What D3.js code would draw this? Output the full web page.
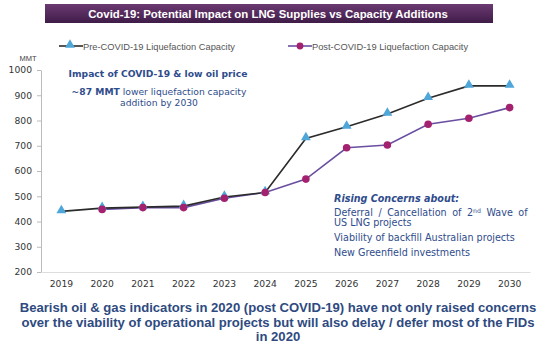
<!DOCTYPE html>
<html>
<head>
<meta charset="utf-8">
<script src="https://cdn.jsdelivr.net/npm/d3@7"></script>
<style>
  body { margin: 0; background: #fff; }
  svg { font-family: Arial, "Liberation Sans", sans-serif; }
  .wide { font-family: "DejaVu Sans", Verdana, sans-serif; }
</style>
</head>
<body>
<svg id="chart" width="550" height="350"></svg>
<script>
const years = ['2019', '2020', '2021', '2022', '2023', '2024', '2025', '2026', '2027', '2028', '2029', '2030'];
const preCovid = [440, 453, 457, 461, 497, 515, 729, 775, 826, 888, 937, 937];
const postCovid = [null, 448, 455, 455, 492, 515, 568, 692, 703, 785, 809, 851];
const yTicks = [200, 300, 400, 500, 600, 700, 800, 900, 1000];

const svg = d3.select('#chart');
const blue = '#2f4c8c';

/* title bar */
const grad = svg.append('defs').append('linearGradient')
    .attr('id', 'tbar').attr('x1', 0).attr('y1', 0).attr('x2', 0).attr('y2', 1);
grad.append('stop').attr('offset', '0%').attr('stop-color', '#6b3a72');
grad.append('stop').attr('offset', '100%').attr('stop-color', '#3f1c48');
svg.append('rect')
    .attr('x', 45).attr('y', 4).attr('width', 448).attr('height', 19)
    .attr('fill', 'url(#tbar)');
svg.append('text')
    .attr('x', 268).attr('y', 17.5)
    .attr('text-anchor', 'middle')
    .attr('fill', '#fff')
    .attr('font-size', 11.4).attr('font-weight', 'bold')
    .text('Covid-19: Potential Impact on LNG Supplies vs Capacity Additions');

const xScale = d3.scaleBand()
    .domain(years)
    .range([41, 530]);
const xc = (d) => xScale(d) + xScale.bandwidth() / 2;

const yScale = d3.scaleLinear()
    .domain([200, 1000])
    .range([272, 70]);

/* y axis */
const yAxis = svg.append('g')
    .attr('transform', 'translate(41,0)')
    .call(d3.axisLeft(yScale).tickValues(yTicks).tickFormat(d3.format('d')).tickSize(4).tickSizeOuter(0));
yAxis.select('.domain').attr('stroke', '#bbb');
yAxis.selectAll('.tick line').attr('stroke', '#bbb');
yAxis.selectAll('.tick text')
    .attr('class', 'wide')
    .attr('font-size', 9.2).attr('fill', '#333')
    .attr('font-family', null)
    .attr('dx', -2);

/* x axis */
const xAxis = svg.append('g')
    .attr('transform', 'translate(0,272)')
    .call(d3.axisBottom(xScale).tickSize(0).tickSizeOuter(0));
xAxis.select('.domain').attr('stroke', '#ddd');
xAxis.selectAll('.tick text')
    .attr('class', 'wide')
    .attr('font-size', 9.2).attr('fill', '#333')
    .attr('font-family', null)
    .attr('dy', '1.25em');

svg.append('text')
    .attr('x', 28).attr('y', 61)
    .attr('text-anchor', 'middle')
    .attr('font-size', 7.5).attr('fill', '#444')
    .text('MMT');

/* lines */
const line = d3.line()
    .defined((d) => d.v != null)
    .x((d) => xc(d.year))
    .y((d) => yScale(d.v));

const preData = years.map((y, i) => ({ year: y, v: preCovid[i] }));
const postData = years.map((y, i) => ({ year: y, v: postCovid[i] }));

svg.append('path')
    .datum(postData)
    .attr('fill', 'none').attr('stroke', '#6a4fa0').attr('stroke-width', 1.6)
    .attr('d', line);

svg.append('path')
    .datum(preData)
    .attr('fill', 'none').attr('stroke', '#2b2b2b').attr('stroke-width', 1.6)
    .attr('d', line);

const tri = d3.symbol().type(d3.symbolTriangle).size(42);

svg.append('g').selectAll('path')
    .data(preData)
    .enter()
    .append('path')
    .attr('d', tri)
    .attr('fill', '#4fa6d9')
    .attr('transform', (d) => `translate(${xc(d.year)}, ${yScale(d.v) - 1})`);

svg.append('g').selectAll('circle')
    .data(postData.filter((d) => d.v != null))
    .enter()
    .append('circle')
    .attr('cx', (d) => xc(d.year))
    .attr('cy', (d) => yScale(d.v))
    .attr('r', 3.8)
    .attr('fill', '#a3216f');

/* legend */
const legend = svg.append('g');
legend.append('line').attr('x1', 59).attr('x2', 83).attr('y1', 46).attr('y2', 46)
    .attr('stroke', '#2b2b2b').attr('stroke-width', 1.6);
legend.append('path').attr('d', tri).attr('fill', '#4fa6d9')
    .attr('transform', 'translate(70,45)');
legend.append('text').attr('x', 83).attr('y', 49.5)
    .attr('font-size', 9.3).attr('fill', '#555')
    .text('Pre-COVID-19 Liquefaction Capacity');
legend.append('line').attr('x1', 288).attr('x2', 312).attr('y1', 46).attr('y2', 46)
    .attr('stroke', '#6a4fa0').attr('stroke-width', 1.6);
legend.append('circle').attr('cx', 300).attr('cy', 46).attr('r', 3.4).attr('fill', '#a3216f');
legend.append('text').attr('x', 312).attr('y', 49.5)
    .attr('font-size', 9.3).attr('fill', '#555')
    .text('Post-COVID-19 Liquefaction Capacity');

/* annotation top left */
svg.append('text')
    .attr('class', 'wide')
    .attr('x', 158).attr('y', 77)
    .attr('text-anchor', 'middle')
    .attr('font-size', 9.2).attr('font-weight', 'bold').attr('fill', blue)
    .text('Impact of COVID-19 & low oil price');
const t2 = svg.append('text')
    .attr('class', 'wide')
    .attr('x', 159).attr('y', 95)
    .attr('text-anchor', 'middle')
    .attr('font-size', 9.2).attr('fill', blue);
t2.append('tspan').attr('font-weight', 'bold').text('~87 MMT');
t2.append('tspan').text(' lower liquefaction capacity');
svg.append('text')
    .attr('class', 'wide')
    .attr('x', 159).attr('y', 105.5)
    .attr('text-anchor', 'middle')
    .attr('font-size', 9.2).attr('fill', blue)
    .text('addition by 2030');

/* rising concerns */
const concerns = svg.append('g').attr('class', 'wide').attr('fill', blue).attr('font-size', 9.6);
concerns.append('text')
    .attr('x', 334).attr('y', 202)
    .attr('font-weight', 'bold').attr('font-style', 'italic')
    .text('Rising Concerns about:');
const c1 = concerns.append('text')
    .attr('x', 334).attr('y', 216)
    .attr('word-spacing', 2.5);
c1.append('tspan').text('Deferral / Cancellation of 2');
c1.append('tspan').attr('font-size', 6.2).attr('dy', -3).text('nd');
c1.append('tspan').attr('dy', 3).text(' Wave of');
concerns.append('text')
    .attr('x', 334).attr('y', 226)
    .text('US LNG projects');
concerns.append('text')
    .attr('x', 334).attr('y', 241)
    .text('Viability of backfill Australian projects');
concerns.append('text')
    .attr('x', 334).attr('y', 256)
    .text('New Greenfield investments');

/* footer */
const footer = [
    'Bearish oil & gas indicators in 2020 (post COVID-19) have not only raised concerns',
    'over the viability of operational projects but will also delay / defer most of the FIDs',
    'in 2020'
];
svg.append('g').selectAll('text')
    .data(footer)
    .enter()
    .append('text')
    .attr('x', 278)
    .attr('y', (d, i) => 312 + i * 14.5)
    .attr('text-anchor', 'middle')
    .attr('font-size', 13.1).attr('font-weight', 'bold')
    .attr('fill', '#2e4a80')
    .text((d) => d);
</script>
</body>
</html>
